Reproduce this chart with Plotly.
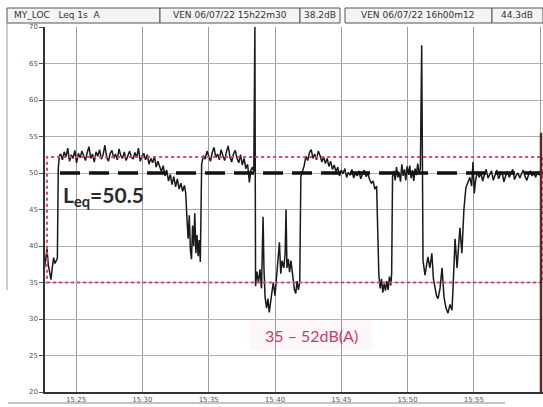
import pandas as pd
import plotly.graph_objects as go

# ---------------- data ----------------
START = "2022-07-06 15:22:30"
END = "2022-07-06 16:00:12"

elapsed_s = [
    0, 6, 12, 18, 24, 30, 36, 42, 48, 54, 60, 65, 69, 74,
    80, 88, 96, 104, 112, 120, 128, 136, 144, 152, 160, 168, 176, 184, 192, 200,
    208, 216, 224, 232, 240, 248, 256, 264, 272, 280, 288, 296, 304, 312, 320, 328,
    336, 344, 352, 360, 368, 376, 384, 392, 400, 408, 416, 424, 432, 440, 448, 456,
    464, 472, 480, 488, 496, 504, 512, 520, 528,
    536, 544, 552, 560, 568, 576, 584, 592, 600, 608, 616, 624, 632, 640, 646,
    652, 657, 662, 667, 672, 677, 682, 687, 692, 697, 702, 707, 712,
    718, 726, 734, 742, 750, 758, 766, 774, 782, 790, 798, 806, 814, 822, 830, 838,
    846, 854, 862, 870, 878, 886, 894, 902, 910, 918, 926, 934, 941, 948, 954,
    959, 962,
    968, 975, 982, 989, 996, 1000, 1005, 1012, 1018, 1024, 1030, 1036, 1042, 1050,
    1058, 1065, 1070, 1076, 1082, 1090, 1096, 1100, 1104, 1110, 1116, 1122, 1130,
    1138, 1144, 1150, 1156, 1162, 1167,
    1174, 1182, 1190, 1198, 1206, 1214, 1222, 1230, 1238, 1246, 1254, 1262, 1270,
    1278, 1286, 1294, 1302, 1310, 1318, 1326, 1334, 1342, 1350, 1358, 1366, 1374,
    1382, 1390, 1398, 1406, 1414, 1422, 1430, 1438, 1446, 1454, 1462, 1470, 1478,
    1486, 1494, 1502, 1510,
    1516, 1520, 1526, 1532, 1538, 1544, 1550, 1556, 1562, 1568, 1574, 1578, 1582,
    1588, 1594, 1600, 1606, 1612, 1618, 1624, 1630, 1636, 1642, 1648, 1654, 1660,
    1666, 1672, 1678, 1684, 1690, 1696, 1702, 1708,
    1714,
    1720, 1729, 1742, 1751, 1760, 1767, 1774, 1781, 1788, 1797, 1806, 1815, 1824,
    1833, 1842, 1851, 1856, 1865, 1874, 1887, 1896, 1905, 1914, 1923, 1932, 1940, 1946,
    1952, 1958, 1966, 1974, 1982, 1990, 1998, 2006, 2014, 2022, 2030, 2038, 2046,
    2054, 2062, 2070, 2078, 2086, 2094, 2102, 2110, 2118, 2126, 2134, 2142, 2150,
    2158, 2166, 2174, 2182, 2190, 2198, 2206, 2214, 2222, 2230, 2238, 2246, 2254, 2262,
]

level_db = [
    37.5, 36.8, 38.2, 39.6, 37.4, 36.2, 35.4, 37.0, 38.4, 37.6, 38.0, 38.3, 50.6, 52.4,
    52.6, 51.8, 52.9, 52.2, 53.4, 51.6, 52.5, 52.0, 53.1, 51.4, 52.7, 52.1, 53.0, 52.4, 51.7, 52.8,
    53.6, 52.0, 52.6, 51.5, 52.9, 52.3, 53.2, 51.9, 52.5, 53.8, 52.2, 51.6, 52.7, 53.1, 52.0, 52.6,
    51.8, 53.3, 52.4, 52.0, 52.9, 51.7, 52.5, 53.0, 52.2, 51.9, 52.8, 52.1, 53.4, 51.6, 52.3, 52.7,
    51.8, 52.5, 51.2, 52.0, 51.4, 52.3, 50.8, 51.6, 50.9,
    50.2, 51.0, 49.6, 50.4, 48.9, 49.8, 48.4, 49.5, 48.1, 49.2, 47.8, 48.6, 47.5, 48.3, 47.2,
    43.5, 41.0, 44.2, 39.5, 38.2, 42.8, 40.0, 44.5, 39.0, 41.5, 38.6, 40.8, 37.8,
    51.2, 52.4, 51.9, 53.0, 52.3, 51.6, 52.8, 53.5, 52.1, 52.6, 51.8, 53.2, 52.4, 51.7, 52.9, 53.7,
    52.2, 51.5, 52.6, 53.1, 52.0, 51.4, 52.5, 51.1, 52.0, 50.6, 51.2, 48.7, 50.4, 50.8, 50.2,
    70.0, 34.5,
    36.5, 35.0, 36.8, 34.2, 44.0, 37.0, 33.0, 31.5, 32.8, 30.9, 32.2, 33.5, 35.0, 33.2,
    36.0, 39.5, 40.5, 36.2, 38.0, 37.0, 39.0, 45.0, 37.0, 38.2, 36.4, 38.0, 36.0,
    34.0, 33.5, 35.2, 34.0, 35.0, 49.5,
    50.2, 51.0, 52.3, 51.7, 52.8, 53.2, 52.0, 52.6, 51.8, 53.0, 52.4, 51.5, 52.2,
    51.3, 52.0, 50.9, 51.6, 50.5, 51.1, 50.2, 50.8, 49.6, 50.4, 49.9, 50.6, 49.4,
    50.1, 49.7, 50.5, 49.3, 50.0, 49.6, 50.3, 49.2, 49.9, 50.4, 49.5, 50.0, 49.1,
    48.6, 48.9, 47.8, 48.2,
    40.0, 36.0, 34.2, 35.5, 33.6, 34.8, 33.9, 35.2, 34.0, 35.8, 34.6, 36.2, 49.5,
    50.3, 49.0, 50.8, 49.4, 50.1, 48.8, 51.2, 49.6, 50.5, 49.0, 50.9, 49.8, 51.0,
    49.3, 50.4, 48.9, 50.6, 49.7, 51.3, 50.0, 50.6,
    67.5,
    38.0, 36.0, 38.5, 37.0, 39.0, 35.5, 34.0, 33.2, 32.8, 34.2, 37.0, 33.0, 31.5,
    30.8, 32.0, 31.2, 34.4, 41.0, 37.0, 42.5, 39.0, 45.0, 48.0, 48.6, 49.4, 48.2, 51.5,
    47.2, 49.0, 50.2, 49.4, 50.0, 48.9, 49.8, 50.5, 49.3, 49.9, 50.3, 49.0, 49.7,
    50.4, 49.2, 49.8, 50.1, 48.8, 49.6, 50.2, 49.4, 49.9, 50.5, 49.1, 49.7, 50.0,
    49.3, 49.9, 50.4, 49.5, 49.0, 49.8, 50.3, 49.6, 50.0, 49.4, 50.2, 49.7, 50.6, 50.1,
]

leq_label = "L<sub>eq</sub>=50.5"
leq_line_db = 50.0
leq_line_start_s = 77
band_low_db = 35
band_high_db = 52.2
band_start_s = 18
band_label = "35 – 52dB(A)"
cursor_s = 2254
cursor_top_db = 55.5

header_cells = ["MY_LOC   Leq 1s  A", "VEN 06/07/22 15h22m30", "38.2dB",
                "VEN 06/07/22 16h00m12", "44.3dB"]

y_ticks = [20, 25, 30, 35, 40, 45, 50, 55, 60, 65, 70]

# ---------------- build ----------------
t0 = pd.Timestamp(START)
times = t0 + pd.to_timedelta(elapsed_s, unit="s")
def ts(s):
    return t0 + pd.Timedelta(seconds=s)

W, H = 543, 407
L, R, T, B = 45, 0, 27, 15
def px(x):
    return (x - L) / (W - L - R)
def py(y):
    return (H - B - y) / (H - T - B)

fig = go.Figure()
fig.add_trace(go.Scatter(x=times, y=level_db, mode="lines",
                         line=dict(color="#1a1a1a", width=1.5), showlegend=False,
                         hoverinfo="skip"))

shapes = []
# Leq dashed line
shapes.append(dict(type="line", xref="x", yref="y", x0=ts(leq_line_start_s), x1=pd.Timestamp(END),
                   y0=leq_line_db, y1=leq_line_db,
                   line=dict(color="#111111", width=3.5, dash="20px,9px"), layer="above"))
# red dotted band
shapes.append(dict(type="rect", xref="x", yref="y", x0=ts(band_start_s), x1=pd.Timestamp(END),
                   y0=band_low_db, y1=band_high_db,
                   line=dict(color="#e0456c", width=2, dash="dot"), layer="above"))
# cursor at right edge
shapes.append(dict(type="line", xref="x", yref="y", x0=ts(cursor_s), x1=ts(cursor_s),
                   y0=20, y1=cursor_top_db, line=dict(color="#6e1f24", width=2.5), layer="above"))
# faint pink glow behind band label
shapes.append(dict(type="rect", xref="paper", yref="paper", x0=px(250), x1=px(372),
                   y0=py(350), y1=py(320), fillcolor="rgba(250,210,222,0.18)",
                   line=dict(width=0), layer="below"))
# header boxes
edges = [(7, 160), (160, 300), (300, 340), (345, 492), (492, 543)]
for (a, b) in edges:
    shapes.append(dict(type="rect", xref="paper", yref="paper", x0=px(a), x1=px(b),
                       y0=py(23), y1=py(8), line=dict(color="#555555", width=1),
                       fillcolor="#f4f4f4"))
# page frame lines
shapes.append(dict(type="line", xref="paper", yref="paper", x0=px(7), x1=px(7),
                   y0=py(290), y1=py(23), line=dict(color="#9a9a9a", width=1)))
shapes.append(dict(type="line", xref="paper", yref="paper", x0=px(8), x1=px(505),
                   y0=py(403), y1=py(403), line=dict(color="#8a8a8a", width=1)))

annotations = []
annotations.append(dict(xref="paper", yref="paper", x=px(61), y=py(196), xanchor="left",
                        yanchor="middle", text="<b>" + leq_label + "</b>", showarrow=False,
                        font=dict(family="Lato", size=21, color="#2a2a2a")))
annotations.append(dict(xref="paper", yref="paper", x=px(311), y=py(335), xanchor="center",
                        yanchor="middle", text=band_label, showarrow=False,
                        font=dict(family="Lato", size=16, color="#d2386a")))
hdr_pos = [(12, "left"), (230, "center"), (320, "center"), (418, "center"), (517, "center")]
for (x, anc), txt in zip(hdr_pos, header_cells):
    annotations.append(dict(xref="paper", yref="paper", x=px(x), y=py(15.5), xanchor=anc,
                            yanchor="middle", text=txt, showarrow=False,
                            font=dict(family="Liberation Sans Narrow, DejaVu Sans", size=9,
                                      color="#333333")))

fig.update_layout(
    width=W, height=H,
    margin=dict(l=L, r=R, t=T, b=B, pad=0),
    paper_bgcolor="white", plot_bgcolor="white",
    shapes=shapes, annotations=annotations, showlegend=False,
    xaxis=dict(range=[ts(9), ts(2263)], type="date", tickformat="%H:%M",
               tick0="2022-07-06 15:25:00", dtick=300000,
               showgrid=True, gridcolor="#9c9c9c", gridwidth=1,
               showline=True, linecolor="#333333", linewidth=1.5,
               ticks="", tickfont=dict(family="DejaVu Sans", size=7, color="#555555"),
               zeroline=False, fixedrange=True),
    yaxis=dict(range=[20, 70], tickvals=y_ticks, ticktext=[str(v) for v in y_ticks],
               showgrid=True, gridcolor="#b0b0b0", gridwidth=1,
               showline=True, linecolor="#333333", linewidth=1.5,
               ticks="outside", ticklen=4, tickcolor="#555555",
               tickfont=dict(family="DejaVu Sans", size=7, color="#555555"),
               zeroline=False, fixedrange=True),
)

fig.write_html("out.html")
